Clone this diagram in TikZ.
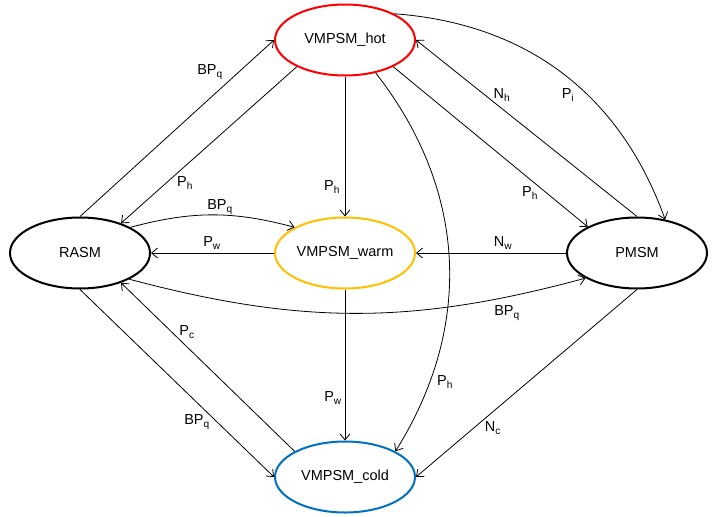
\documentclass[tikz,border=0pt]{standalone}
\usepackage{fontspec}
\setmainfont{Liberation Sans}
\usetikzlibrary{shapes.geometric,arrows.meta}
\definecolor{hotred}{RGB}{255,0,0}
\definecolor{warmorange}{RGB}{255,192,0}
\definecolor{coldblue}{RGB}{0,112,192}
\begin{document}
\begin{tikzpicture}[x=1pt,y=-1pt,
  state/.style={ellipse,draw,line width=2pt,minimum width=140pt,minimum height=71pt,
    inner sep=0pt,font=\fontsize{14.5}{17}\selectfont},
  tr/.style={draw,line width=0.8pt,-{Straight Barb[length=6pt,width=10pt]}},
  lbl/.style={inner sep=0pt,font=\fontsize{14.5}{17}\selectfont}]
\useasboundingbox (0,0) rectangle (718,517);

% states
\node[state,draw=hotred]     (hot)  at (345,40)  {VMPSM\_hot};
\node[state]                 (rasm) at (80,253)  {RASM};
\node[state,draw=warmorange] (warm) at (345,253) {VMPSM\_warm};
\node[state]                 (pmsm) at (637,253) {PMSM};
\node[state,draw=coldblue]   (cold) at (345,477) {VMPSM\_cold};

% transitions
\draw[tr] (rasm.north) -- (hot.west);
\draw[tr] (hot.209) -- (rasm.36);
\draw[tr] (rasm.27) to[bend left=15] (warm.153);
\draw[tr] (warm.west) -- (rasm.east);
\draw[tr] (rasm.-28) to[bend right=15] (pmsm.206);
\draw[tr] (pmsm.west) -- (warm.east);
\draw[tr] (hot.south) -- (warm.north);
\draw[tr] (warm.south) -- (cold.north);
\draw[tr] (hot.-47) to[bend left=35] (cold.27);
\draw[tr] (hot.-29) -- (pmsm.152);
\draw[tr] (pmsm.north) -- (hot.east);
\draw[tr] (hot.28) to[bend left=33] (pmsm.50);
\draw[tr] (cold.153) -- (rasm.-36);
\draw[tr] (rasm.south) -- (cold.west);
\draw[tr] (pmsm.south) -- (cold.east);

% transition labels
\node[lbl] (lrh)  at (210,72)  {BP\textsubscript{q}};
\node[lbl] (lhr)  at (185,183) {P\textsubscript{h}};
\node[lbl] (lrw)  at (220,207) {BP\textsubscript{q}};
\node[lbl] (lwr)  at (212,243) {P\textsubscript{w}};
\node[lbl] (lrp)  at (507,313) {BP\textsubscript{q}};
\node[lbl] (lpw)  at (503,243) {N\textsubscript{w}};
\node[lbl] (lhw)  at (332,187) {P\textsubscript{h}};
\node[lbl] (lwc)  at (333,398) {P\textsubscript{w}};
\node[lbl] (lhc)  at (445,382) {P\textsubscript{h}};
\node[lbl] (lhp)  at (530,193) {P\textsubscript{h}};
\node[lbl] (lph)  at (502,95)  {N\textsubscript{h}};
\node[lbl] (lhpi) at (568,95)  {P\textsubscript{i}};
\node[lbl] (lcr)  at (187,332) {P\textsubscript{c}};
\node[lbl] (lrc)  at (197,422) {BP\textsubscript{q}};
\node[lbl] (lpc)  at (493,428) {N\textsubscript{c}};
\end{tikzpicture}
\end{document}
